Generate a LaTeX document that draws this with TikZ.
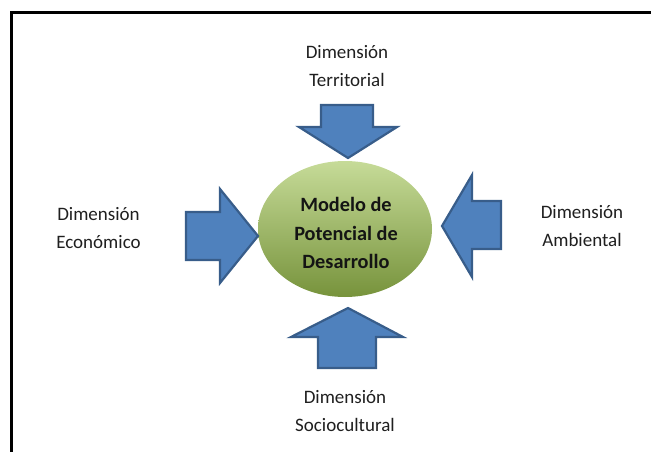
\documentclass[tikz,border=0pt]{standalone}
\usepackage{fontspec}
\setmainfont{Carlito}
\begin{document}
\begin{tikzpicture}[x=1pt,y=-1pt,
  blockarrow/.style={fill=arrowblue,draw=arrowedge,line width=2.2pt,line join=miter},
  dimlabel/.style={align=center,font=\fontsize{19}{28}\selectfont,text=black!88,inner sep=0pt},
  coretext/.style={align=center,font=\bfseries\fontsize{20.3}{28.5}\selectfont,text=black!92,inner sep=0pt}]
\definecolor{arrowblue}{HTML}{4F81BD}
\definecolor{arrowedge}{HTML}{385D8A}
\definecolor{greenlight}{HTML}{C6DB98}
\definecolor{greendark}{HTML}{77933C}
\useasboundingbox (0,0) rectangle (651,452);
% frame: top and left rules
\draw[line width=2.4pt] (651,12.5) -- (11.5,12.5) -- (11.5,452);
% central ellipse
\shade[top color=greenlight,bottom color=greendark,middle color=greenlight!50!greendark]
  (345,229) ellipse [x radius=87, y radius=68];
\node[coretext] (core) at (346,233) {Modelo de\\Potencial de\\Desarrollo};
% block arrows pointing at the centre
\draw[blockarrow] (321,105) -- (373,105) -- (373,127) -- (397,127) -- (348,158)
  -- (299,127) -- (321,127) -- cycle;
\draw[blockarrow] (318,368) -- (376,368) -- (376,337) -- (403,337) -- (348,308)
  -- (291,337) -- (318,337) -- cycle;
\draw[blockarrow] (186,212) -- (220,212) -- (220,189) -- (258,236) -- (220,283)
  -- (220,260) -- (186,260) -- cycle;
\draw[blockarrow] (501,201) -- (472,201) -- (472,175) -- (442,226) -- (472,277)
  -- (472,249) -- (501,249) -- cycle;
% dimension labels
\node[dimlabel] (terr) at (347,66) {Dimensión\\Territorial};
\node[dimlabel] (econ) at (98.5,228.5) {Dimensión\\Económico};
\node[dimlabel] (amb) at (582,226.5) {Dimensión\\Ambiental};
\node[dimlabel] (soc) at (345,411.5) {Dimensión\\Sociocultural};
\end{tikzpicture}
\end{document}
